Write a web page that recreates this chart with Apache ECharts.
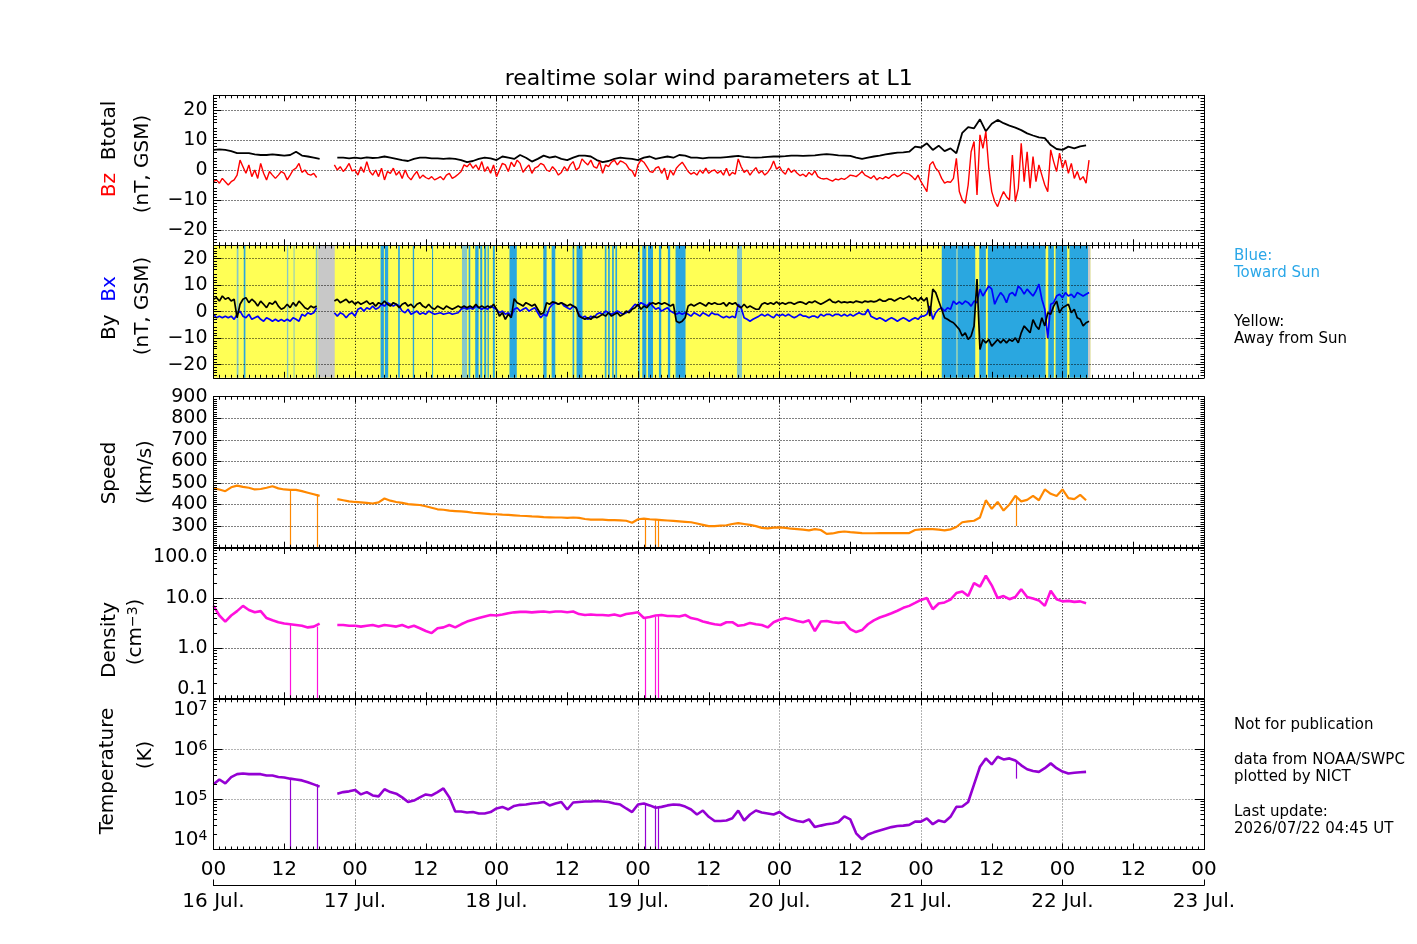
<!DOCTYPE html>
<html>
<head>
<meta charset="utf-8">
<script src="https://cdn.jsdelivr.net/npm/echarts@6/dist/echarts.min.js"></script>
<style>
html,body{margin:0;padding:0;background:#fff;}
#chart{width:1417px;height:944px;}
</style>
</head>
<body>
<div id="chart"></div>
<script>
// ================= DATA =================
// time axis: hours since 16 Jul 00:00 UT
const dayLabels = ['16 Jul.','17 Jul.','18 Jul.','19 Jul.','20 Jul.','21 Jul.','22 Jul.','23 Jul.'];
const bTicks = [-20, -10, 0, 10, 20];

// Btotal, hourly from h0
const btotal = [
  6.8, 7.0, 6.8, 6.4, 5.7, 5.7, 5.7, 5.3, 5.1, 5.1,
  5.3, 5.1, 4.9, 5.1, 6.2, 4.9, 4.6, 4.2, 3.8, null,
  null, 4.2, 4.2, 4.0, 4.2, 4.0, 4.3, 4.1, 4.2, 4.6,
  4.2, 3.8, 3.4, 3.1, 3.8, 4.2, 4.2, 4.0, 4.0, 3.8,
  4.0, 3.8, 3.4, 2.7, 3.1, 3.8, 4.2, 4.0, 3.4, 4.6,
  4.2, 3.8, 5.1, 4.2, 2.9, 3.8, 4.9, 4.2, 4.6, 3.8,
  3.4, 4.2, 4.9, 4.9, 4.6, 3.4, 2.7, 3.1, 3.8, 4.2,
  4.0, 3.8, 3.4, 4.2, 4.6, 3.8, 4.2, 4.6, 4.2, 5.1,
  4.9, 4.2, 4.2, 4.0, 4.2, 4.2, 4.2, 4.4, 4.6, 4.8,
  4.5, 4.3, 4.2, 4.3, 4.5, 4.6, 4.6, 4.7, 4.9, 4.9,
  4.8, 4.9, 5.0, 5.2, 5.4, 5.2, 5.0, 4.9, 4.8, 4.2,
  3.8, 4.2, 4.6, 4.9, 5.3, 5.6, 5.9, 6.0, 6.2, 7.9,
  7.6, 9.0, 6.8, 8.2, 6.4, 7.3, 5.7, 12.5, 14.4, 14.0,
  17.0, 13.0, 15.5, 16.8, 15.7, 14.9, 14.2, 13.4, 12.3, 11.6,
  11.0, 10.7, 8.4, 7.1, 6.8, 7.9, 7.3, 8.0, 8.3
];

// Bz, every half hour from h0 (rows = 4 hours)
const bz = [
  -3.8, -3.2, -4.3, -2.7, -3.8, -4.9, -3.8, -3.2,
  -1.6, 3.4, 1.2, -1.0, 1.8, -2.1, 0.1, -2.7,
  2.3, -1.0, -3.2, -0.4, -1.6, -2.7, -1.6, -0.4,
  -1.0, -3.2, -1.6, 0.1, 0.7, 2.3, -0.7, 0.1,
  -1.3, -1.6, -1.0, -2.4, null, null, null, null,
  null, 1.8, 0.1, 1.2, -0.4, 0.7, 2.3, -0.2,
  0.1, -1.6, 1.2, -0.7, 2.9, -0.4, -1.6, 0.1,
  -2.1, 0.7, -3.2, -0.4, -1.0, 0.7, -1.6, -0.4,
  -2.7, 0.1, -2.1, -3.2, -1.6, -0.4, -2.7, -1.6,
  -2.4, -2.9, -2.1, -3.2, -2.7, -2.1, -3.2, -1.6,
  -1.0, -2.7, -2.1, -1.3, -0.4, 1.8, 1.2, 2.3,
  0.7, 1.8, 0.1, 2.9, -0.4, 1.2, -1.0, 1.8,
  -2.1, 0.1, 2.3, 1.8, -0.4, 2.7, 1.2, 3.4,
  2.3, -0.7, 0.7, 1.8, -1.0, 0.7, 1.2, 2.3,
  1.8, 0.1, -0.4, 1.2, 0.1, -1.6, -0.7, 1.2,
  -0.2, 1.8, 2.9, 0.1, 0.9, 3.8, 2.7, 1.8,
  3.4, 1.2, 0.7, 2.9, -1.0, 1.8, 1.2, 2.7,
  3.4, 1.8, 3.1, 2.7, 2.0, 0.4, -0.2, -2.1,
  1.8, 3.4, 2.7, 1.2, -0.4, -0.7, 0.7, 1.2,
  -1.0, 0.7, -3.2, 0.1, -1.6, 0.7, 1.8, 2.7,
  1.2, -0.4, -1.3, -0.7, -1.6, 0.1, -1.0, 0.7,
  -1.0, -0.2, 0.1, -1.0, -0.2, -1.6, 0.7, -1.8,
  -0.7, -1.3, 3.8, 1.2, -0.7, 0.1, -1.6, -0.2,
  0.9, -1.0, -0.2, -1.6, -0.7, 0.7, 3.1, 0.4,
  1.2, -0.4, -1.3, 0.7, -0.7, 0.1, -1.0, -1.8,
  -1.3, -2.1, -0.7, -1.6, -0.2, -2.1, -2.7, -2.9,
  -2.7, -3.2, -3.6, -2.9, -3.2, -2.7, -3.0, -2.4,
  -1.6, -1.8, -2.1, -1.3, -0.4, -1.6, -2.1, -2.7,
  -1.8, -3.2, -2.4, -2.9, -2.1, -2.7, -1.8, -1.3,
  -2.1, -1.6, -0.7, -1.0, -1.3, -2.1, -3.2, -1.6,
  -3.8, -5.4, -7.1, 1.8, 2.9, 0.7, -0.4, -2.7,
  -4.3, -3.8, -4.0, -2.7, 4.0, -7.1, -9.9, -11.0,
  -4.9, 6.2, 9.6, -8.2, 11.8, 7.3, 12.9, 0.7,
  -7.1, -10.4, -12.1, -9.3, -7.1, -8.8, -9.9, 5.1,
  -10.4, -6.0, 9.0, -3.8, 6.2, -6.0, 4.6, -3.8,
  1.8, -1.6, -4.9, -7.1, 6.8, 2.9, -0.4, 5.7,
  0.7, 3.4, -1.0, 2.3, -2.7, -0.4, -3.2, -2.1,
  -4.3, 3.4
];

// By, every half hour from h0
const by = [
  4.7, 5.3, 4.0, 5.9, 4.7, 5.3, 4.0, 4.7,
  -2.3, 2.8, 4.7, 5.3, 3.4, 4.7, 3.7, 2.1,
  4.0, 2.8, 1.5, 3.4, 2.8, 4.0, 2.1, 0.9,
  1.5, 2.8, 1.5, 3.4, 2.1, 4.0, 2.8, 1.5,
  0.9, 2.1, 1.5, 2.1, null, null, null, null,
  null, 4.0, 4.7, 3.4, 4.0, 4.7, 3.4, 4.0,
  2.8, 3.7, 2.8, 3.4, 4.0, 2.8, 3.4, 2.1,
  3.4, 2.8, 4.0, 2.8, 2.1, 3.4, 2.8, 1.5,
  2.8, 3.4, 2.1, 2.8, 1.5, 2.8, 3.4, 2.1,
  1.5, 2.8, 1.5, 0.9, 2.1, 1.5, 0.9, 2.1,
  1.5, 0.9, 1.5, 2.1, 1.5, 2.1, 1.5, 2.1,
  1.5, 2.8, 1.5, 2.1, 1.5, 2.1, 1.5, 2.8,
  0.9, -1.7, -0.4, -2.9, -1.0, -2.3, 4.9, 3.4,
  2.8, 2.1, 3.4, 2.8, 2.1, 2.8, 0.9, -1.0,
  -0.4, 3.4, 2.8, 3.7, 3.4, 2.8, 3.4, 2.8,
  2.1, 2.8, 2.1, 1.5, -1.7, -2.3, -2.9, -2.3,
  -2.9, -1.7, -2.3, -1.7, -1.0, -1.7, -0.4, -1.7,
  -1.0, -0.4, -1.7, -1.0, 0.2, -0.4, 0.9, 1.5,
  2.8, 0.9, 2.1, 1.5, 2.8, 3.4, 2.8, 3.4,
  2.8, 3.4, 2.8, 2.1, 2.8, -3.6, -4.2, -3.6,
  -2.3, 2.1, 2.8, 2.1, 2.8, 3.4, 2.8, 2.1,
  3.4, 2.8, 3.4, 2.8, 2.8, 3.4, 2.1, 3.4,
  2.8, 3.4, 2.1, 1.5, 2.8, 1.5, 2.1, 1.5,
  0.9, 0.9, 2.8, 3.4, 2.8, 3.4, 2.8, 3.7,
  2.8, 3.4, 2.8, 3.4, 3.4, 2.8, 3.4, 3.7,
  3.4, 2.8, 3.7, 3.4, 4.0, 3.4, 2.8, 3.4,
  4.0, 4.7, 3.7, 3.4, 4.0, 3.4, 3.7, 3.4,
  3.7, 3.4, 4.0, 3.7, 3.4, 4.0, 3.7, 4.0,
  3.7, 4.0, 4.7, 4.0, 4.0, 4.7, 4.7, 4.0,
  4.7, 5.3, 4.7, 5.3, 5.9, 4.7, 5.3, 4.0,
  5.3, 4.0, 5.3, -1.7, 8.5, 7.2, 4.0, 0.9,
  -2.3, -2.9, -3.6, -4.2, -5.4, -6.7, -9.2, -8.0,
  -10.5, -9.2, -5.4, 12.3, -14.3, -10.5, -11.8, -10.5,
  -13.0, -11.8, -10.5, -11.8, -10.5, -11.8, -10.5, -11.2,
  -9.9, -11.8, -8.0, -5.4, -6.7, -8.0, -3.0, -5.4,
  -6.7, -2.3, -5.4, -0.4, -1.0, 2.1, 4.0, -0.4,
  1.5, 2.1, 2.8, -0.4, 0.9, -2.3, -2.9, -5.4,
  -4.2, -3.6
];

// Bx, every half hour from h0
const bx = [
  -1.0, -2.3, -1.7, -2.3, -1.7, -2.3, -1.7, -2.9,
  -1.0, 0.2, -1.7, -2.3, -1.0, -2.9, -2.3, -1.7,
  -2.9, -3.6, -2.3, -2.9, -3.6, -2.9, -3.6, -3.0,
  -3.6, -2.9, -3.6, -2.3, -2.9, -3.6, -1.0, -1.7,
  -0.4, -1.0, -0.4, 1.5, null, null, null, null,
  null, -0.4, -1.7, -0.4, -1.0, -2.3, -1.0, -0.4,
  -1.7, 0.9, 1.5, 0.2, 1.5, 0.9, 2.1, 0.9,
  1.5, 2.8, 2.1, 3.4, 2.8, 2.1, 2.8, 2.1,
  0.2, -0.4, 0.9, -1.0, -0.4, 0.2, -1.0, -0.4,
  -1.0, 0.2, -0.4, -1.0, -0.7, -0.4, -1.0, -0.7,
  -0.4, -1.0, -0.7, -0.4, 0.9, 1.5, 0.9, 1.5,
  0.9, 2.1, 1.5, 0.9, 1.5, 0.9, 2.1, 1.5,
  0.9, -0.4, 0.2, -1.0, -0.4, -1.7, 0.9, 1.5,
  0.2, 0.9, 1.5, 0.2, 0.9, 1.5, -0.4, -2.3,
  -1.0, -1.7, 1.5, 2.8, 3.4, 2.8, 3.4, 2.1,
  1.5, 0.9, 2.1, 1.5, -1.0, -2.3, -1.7, -2.9,
  -1.7, -2.3, -1.0, -0.4, -1.0, 0.2, -0.4, -1.0,
  -0.4, 0.2, -0.4, -1.0, -0.4, 0.2, 1.5, 2.8,
  2.1, 3.4, 2.8, 2.1, 3.4, 2.1, 0.9, 1.5,
  0.2, 0.9, 1.5, 0.2, -0.4, -1.0, -0.4, -1.0,
  -0.4, -1.0, -1.7, -0.4, -1.0, -1.7, -0.4, -1.0,
  -1.7, -0.4, -1.0, -1.0, -1.7, -2.3, -1.7, -2.3,
  -1.7, -2.3, 2.8, 1.5, -2.3, -2.9, -3.6, -2.9,
  -2.3, -1.7, -1.0, -1.7, -1.0, -1.7, -2.3, -1.0,
  -1.7, -1.0, -1.7, -1.0, -1.7, -2.3, -1.7, -1.0,
  -1.7, -1.7, -2.3, -1.7, -1.7, -2.3, -1.0, -1.7,
  -1.0, -1.0, -1.7, -1.0, -1.0, -1.7, -1.0, -1.7,
  -1.0, -1.7, -1.0, -0.4, -1.0, -1.0, 0.9, -1.7,
  -2.3, -2.9, -2.3, -2.9, -3.6, -2.9, -2.3, -2.9,
  -3.6, -2.9, -2.3, -2.9, -3.6, -2.9, -2.3, -2.9,
  -1.7, -1.7, -1.0, 2.1, -2.9, -0.4, 0.9, 1.5,
  0.2, 1.5, 0.9, 4.0, 2.8, 3.7, 2.8, 4.0,
  3.4, 2.1, 4.0, 3.4, 8.5, 5.9, 7.8, 9.7,
  8.5, 2.8, 5.3, 7.2, 5.9, 3.4, 6.6, 7.2,
  5.9, 9.7, 8.5, 6.6, 8.5, 7.2, 5.9, 7.8,
  10.4, 4.7, 0.9, -9.9, 2.8, 3.4, 5.9, 6.6,
  5.3, 7.2, 5.9, 6.6, 5.3, 7.2, 6.6, 5.9,
  6.6, 7.2
];

// IMF sector background of the By/Bx panel: [startHour, endHour]
const yellowSpan = [0, 148.73];
const blueStripes = [
  [5.13,5.41],[28.34,28.9],[29.07,29.63],[31.32,31.6],[33.8,34.03],[37.07,37.24],
  [43.27,43.55],[44.39,44.96],[45.24,45.58],[45.92,46.25],[46.48,46.7],[47.38,47.72],
  [50.2,51.44],[55.94,56.5],[57.35,57.97],[60.9,61.18],[61.58,62.59],
  [66.37,66.65],[66.93,67.21],[67.61,67.89],[68.17,68.45],
  [72.0,72.28],[72.73,73.41],[73.69,74.54],[75.55,75.94],[77.07,77.46],[78.37,80.06],
  [123.52,125.94],[126.22,129.2],[129.88,131.0],[131.34,141.13],[141.58,142.54],
  [142.82,144.79],[145.18,148.33]
];
const mixedStripes = [
  [3.94,4.23],[12.45,12.68],[13.58,13.75],[17.35,17.63],[42.14,43.0],[88.8,89.64],[125.94,126.22]
];
const grayStripes = [[17.75,20.56],[148.33,148.73]];

// Speed (km/s), hourly from h0
const speed = [
  475, 470, 462, 480, 488, 482, 478, 470, 472, 478,
  485, 475, 470, 468, 468, 462, 455, 448, 440, null,
  null, 425, 420, 415, 412, 410, 408, 405, 410, 428,
  418, 412, 408, 402, 400, 398, 392, 385, 378, 376,
  372, 370, 368, 366, 362, 360, 358, 356, 355, 353,
  352, 350, 348, 347, 345, 344, 342, 341, 340, 340,
  338, 340, 338, 333, 330, 330, 330, 328, 328, 327,
  325, 316, 332, 335, 332, 330, 328, 326, 324, 322,
  320, 318, 312, 306, 300, 300, 302, 304, 310, 314,
  310, 306, 300, 292, 290, 293, 294, 292, 288, 286,
  284, 280, 286, 282, 264, 266, 272, 275, 272, 270,
  268, 267, 267, 268, 268, 268, 268, 268, 268, 282,
  285, 286, 286, 284, 280, 285, 296, 318, 322, 325,
  340, 420, 380, 412, 372, 400, 440, 415, 422, 440,
  420, 470, 450, 440, 470, 430, 425, 445, 420
];

// Density (cm^-3), hourly from h0
const density = [
  7.0, 4.5, 3.4, 4.5, 5.5, 7.0, 5.8, 5.2, 5.5, 4.0,
  3.6, 3.3, 3.1, 3.0, 2.9, 2.8, 2.6, 2.7, 3.1, null,
  null, 2.9, 2.9, 2.8, 2.8, 2.7, 2.8, 2.9, 2.7, 2.9,
  2.8, 2.7, 2.9, 2.6, 2.8, 2.5, 2.2, 2.0, 2.5, 2.6,
  2.9, 2.6, 3.0, 3.4, 3.7, 4.0, 4.3, 4.6, 4.5, 4.7,
  5.0, 5.2, 5.3, 5.3, 5.2, 5.3, 5.4, 5.2, 5.4, 5.4,
  5.2, 5.4, 4.8, 4.6, 4.7, 4.6, 4.6, 4.5, 4.7, 4.4,
  4.8, 5.0, 5.2, 4.0, 4.2, 4.5, 4.6, 4.4, 4.4, 4.3,
  4.6, 4.0, 3.8, 3.4, 3.2, 3.0, 2.9, 3.3, 3.3, 2.8,
  2.9, 3.2, 3.0, 2.9, 2.6, 3.3, 3.7, 4.0, 3.8, 3.5,
  3.3, 3.6, 2.2, 3.4, 3.5, 3.3, 3.2, 3.3, 2.4, 2.1,
  2.3, 3.0, 3.6, 4.1, 4.5, 5.0, 5.6, 6.4, 7.0, 8.0,
  9.2, 10.0, 6.0, 7.8, 8.2, 9.3, 12.6, 13.6, 11.0, 20.0,
  17.0, 28.0, 18.0, 10.0, 11.0, 9.5, 10.5, 15.0, 10.5, 9.8,
  9.0, 7.0, 14.0, 9.5, 8.6, 8.8, 8.4, 8.6, 7.9
];

// Temperature (K), hourly from h0
const temperature = [
  2.0e5, 2.5e5, 2.1e5, 2.8e5, 3.2e5, 3.3e5, 3.2e5, 3.2e5, 3.2e5, 3.0e5,
  3.0e5, 2.8e5, 2.75e5, 2.6e5, 2.5e5, 2.4e5, 2.2e5, 2.0e5, 1.8e5, null,
  null, 1.3e5, 1.4e5, 1.45e5, 1.55e5, 1.26e5, 1.4e5, 1.2e5, 1.15e5, 1.6e5,
  1.4e5, 1.3e5, 1.1e5, 8.9e4, 9.5e4, 1.1e5, 1.26e5, 1.2e5, 1.4e5, 1.66e5,
  1.1e5, 5.75e4, 5.75e4, 5.5e4, 5.6e4, 5.25e4, 5.25e4, 5.6e4, 6.6e4, 7.1e4,
  6.3e4, 7.4e4, 7.8e4, 7.9e4, 8.3e4, 8.5e4, 8.9e4, 7.6e4, 8.3e4, 8.9e4,
  6.3e4, 8.7e4, 8.9e4, 9.1e4, 9.1e4, 9.3e4, 9.1e4, 8.9e4, 8.3e4, 7.9e4,
  6.6e4, 5.6e4, 7.9e4, 8.3e4, 7.6e4, 6.8e4, 7.1e4, 7.6e4, 7.9e4, 7.8e4,
  7.2e4, 6.3e4, 5.0e4, 6.0e4, 4.5e4, 3.7e4, 3.7e4, 3.8e4, 4.2e4, 6.0e4,
  3.8e4, 5.0e4, 6.0e4, 5.5e4, 5.25e4, 5.0e4, 5.6e4, 4.6e4, 4.0e4, 3.7e4,
  3.55e4, 4.0e4, 2.8e4, 3.0e4, 3.2e4, 3.3e4, 3.55e4, 4.6e4, 4.0e4, 2.1e4,
  1.6e4, 2.0e4, 2.2e4, 2.4e4, 2.6e4, 2.8e4, 2.95e4, 3.0e4, 3.1e4, 3.6e4,
  3.6e4, 4.2e4, 3.2e4, 3.8e4, 3.55e4, 4.5e4, 7.1e4, 7.2e4, 8.9e4, 2.0e5,
  4.5e5, 6.6e5, 5.0e5, 7.1e5, 6.3e5, 6.6e5, 6.0e5, 4.8e5, 4.0e5, 3.7e5,
  3.55e5, 4.2e5, 5.25e5, 4.2e5, 3.6e5, 3.3e5, 3.4e5, 3.5e5, 3.55e5
];

// bad-data dropouts: [hour, value at top of spike, value at bottom]
const speedDrops = [[13.07, 468, 200], [17.55, 448, 200], [73.2, 335, 200], [74.9, 332, 200], [75.4, 330, 200], [136.1, 440, 300]];
const densityDrops = [[13.07, 3.0, 0.1], [17.55, 2.7, 0.1], [73.2, 4.0, 0.1], [74.9, 4.2, 0.1], [75.4, 4.5, 0.1]];
const tempDrops = [[13.07, 2.6e5, 1e4], [17.55, 2.0e5, 1e4], [73.2, 8.3e4, 1e4], [74.9, 7.6e4, 1e4], [75.4, 6.8e4, 1e4], [136.1, 6.0e5, 2.6e5]];

// ================= LAYOUT / STYLE =================
const FONT = 'DejaVu Sans';
const LEFT = 213.5, WIDTH = 990.5;
const panels = [
  { top: 95.3,  height: 150.0 },
  { top: 245.5, height: 132.3 },
  { top: 396.7, height: 151.0 },
  { top: 548.0, height: 150.3 },
  { top: 699.3, height: 150.2 }
];
const dayGrid = [24, 48, 72, 96, 120, 144];

const grids = panels.map(p => ({ left: LEFT, top: p.top, width: WIDTH, height: p.height, outerBoundsMode: 'none', containLabel: false, show: false }));

const axisLineStyle = { color: '#000', width: 1 };

// x axes: bottom (2i), top (2i+1) for each panel; extra date axis
const xAxis = [];
panels.forEach((p, i) => {
  ['bottom', 'top'].forEach(pos => {
    xAxis.push({
      type: 'value', gridIndex: i, position: pos, min: 0, max: 168, interval: 12, z: 10,
      axisLine: { show: true, onZero: false, lineStyle: axisLineStyle },
      axisTick: { show: true, inside: true, length: 6, lineStyle: axisLineStyle },
      minorTick: { show: true, splitNumber: 12, length: 3, lineStyle: axisLineStyle },
      axisLabel: {
        show: i === 4 && pos === 'bottom', margin: 10, fontSize: 20, fontFamily: FONT, color: '#000',
        showMinLabel: true, showMaxLabel: true,
        formatter: v => (v % 24 === 0 ? '00' : '12')
      },
      splitLine: { show: false }
    });
  });
});
xAxis.push({
  type: 'value', gridIndex: 4, position: 'bottom', offset: 36, min: 0, max: 168, interval: 24, z: 10,
  axisLine: { show: true, onZero: false, lineStyle: axisLineStyle },
  axisTick: { show: true, inside: true, length: 6, lineStyle: axisLineStyle },
  minorTick: { show: false },
  axisLabel: { margin: 6, fontSize: 20, fontFamily: FONT, color: '#000', showMinLabel: true, showMaxLabel: true,
    formatter: v => dayLabels[Math.round(v / 24)] },
  splitLine: { show: false }
});

// y axes: left (2i), right (2i+1)
const yAxis = [];
function yCfg(i) {
  const base = {
    gridIndex: i, z: 10,
    axisLine: { show: true, onZero: false, lineStyle: axisLineStyle },
    splitLine: { show: false },
    axisLabel: { fontSize: 19, fontFamily: FONT, color: '#000', margin: 6, showMinLabel: true, showMaxLabel: true }
  };
  if (i <= 1) {
    return Object.assign(base, {
      type: 'value', min: -25, max: 25, interval: 5,
      axisTick: { show: true, inside: true, length: 8, customValues: bTicks, lineStyle: axisLineStyle },
      minorTick: { show: true, splitNumber: 5, length: 3.5, lineStyle: axisLineStyle },
      axisLabel: Object.assign(base.axisLabel, { customValues: bTicks, formatter: v => String(v).replace('-', '\u2212') })
    });
  }
  if (i === 2) {
    return Object.assign(base, {
      type: 'value', min: 200, max: 900, interval: 100,
      axisTick: { show: true, inside: true, length: 8, lineStyle: axisLineStyle },
      minorTick: { show: true, splitNumber: 10, length: 3.5, lineStyle: axisLineStyle },
      axisLabel: Object.assign(base.axisLabel, { formatter: v => (v === 200 ? '' : String(v)) })
    });
  }
  if (i === 3) {
    return Object.assign(base, {
      type: 'log', logBase: 10, min: 0.1, max: 100,
      axisTick: { show: true, inside: true, length: 9, lineStyle: axisLineStyle },
      minorTick: { show: false },
      axisLabel: Object.assign(base.axisLabel, {
        verticalAlignMaxLabel: 'top', verticalAlignMinLabel: 'bottom',
        formatter: v => Number(v).toFixed(1)
      })
    });
  }
  return Object.assign(base, {
    type: 'log', logBase: 10, min: 1e4, max: 1e7,
    axisTick: { show: true, inside: true, length: 9, lineStyle: axisLineStyle },
    minorTick: { show: false },
    axisLabel: Object.assign(base.axisLabel, {
      verticalAlignMaxLabel: 'top', verticalAlignMinLabel: 'bottom',
      fontSize: 20,
      formatter: v => '10{s|' + Math.round(Math.log10(v)) + '}',
      rich: { s: { fontSize: 14, fontFamily: FONT, color: '#000', verticalAlign: 'top', lineHeight: 12 } }
    })
  });
}
panels.forEach((p, i) => {
  const l = yCfg(i); l.position = 'left';
  const r = yCfg(i); r.position = 'right'; r.axisLabel = Object.assign({}, r.axisLabel, { show: false });
  yAxis.push(l, r);
});

// ================= SERIES =================
const series = [];
const pairs = (arr, step) => arr.map((v, k) => [k * step, v]);

function dataLine(i, data, color, width, drops) {
  const s = {
    type: 'line', xAxisIndex: 2 * i, yAxisIndex: 2 * i, data: data, z: 3,
    showSymbol: false, symbol: 'none', connectNulls: false, silent: true, animation: false,
    lineStyle: { color: color, width: width, join: 'bevel' }, itemStyle: { color: color }
  };
  if (drops) {
    s.markLine = {
      silent: true, z: 3, symbol: ['none', 'none'], label: { show: false }, animation: false,
      lineStyle: { color: color, width: 1.2, type: 'solid' },
      data: drops.map(d => [{ coord: [d[0], d[1]] }, { coord: [d[0], d[2]] }])
    };
  }
  return s;
}

function gridLines(i, yVals, color) {
  return {
    type: 'line', xAxisIndex: 2 * i, yAxisIndex: 2 * i, data: [], z: 2, silent: true,
    markLine: {
      silent: true, z: 2, symbol: ['none', 'none'], label: { show: false }, animation: false,
      lineStyle: { color: color, width: 1, type: [1, 2] },
      data: dayGrid.map(v => ({ xAxis: v })).concat(yVals.map(v => ({ yAxis: v })))
    }
  };
}

function logMinorTicks(i, decades) {
  const vals = [];
  decades.forEach(d => { for (let m = 2; m <= 9; m++) vals.push(m * d); });
  const segs = [];
  vals.forEach(v => {
    segs.push([{ coord: [0, v] }, { coord: [0.6, v] }]);
    segs.push([{ coord: [167.4, v] }, { coord: [168, v] }]);
  });
  return {
    type: 'line', xAxisIndex: 2 * i, yAxisIndex: 2 * i, data: [], z: 9, silent: true,
    markLine: { silent: true, z: 9, symbol: ['none', 'none'], label: { show: false }, animation: false,
      lineStyle: { color: '#000', width: 1, type: 'solid' }, data: segs }
  };
}

// panel 2 background
const bg = [];
const area = (s, e, c) => bg.push([{ xAxis: s, itemStyle: { color: c, opacity: 1 } }, { xAxis: e }]);
area(yellowSpan[0], yellowSpan[1], '#ffff55');
mixedStripes.forEach(d => area(d[0], d[1], '#86c9c8'));
blueStripes.forEach(d => area(d[0], d[1], '#2aa7e0'));
grayStripes.forEach(d => area(d[0], d[1], '#c8c8c8'));
series.push({
  type: 'line', xAxisIndex: 2, yAxisIndex: 2, data: [], z: 1, silent: true,
  markArea: { silent: true, z: 1, animation: false, data: bg }
});

series.push(gridLines(0, bTicks, '#000'));
series.push(gridLines(1, bTicks, '#000'));
series.push(gridLines(2, [300, 400, 500, 600, 700, 800], '#000'));
series.push(gridLines(3, [1, 10], '#000'));
series.push(gridLines(4, [1e5, 1e6], '#666'));

series.push(dataLine(0, pairs(btotal, 1), '#000', 1.8));
series.push(dataLine(0, pairs(bz, 0.5), '#ff0000', 1.4));
series.push(dataLine(1, pairs(bx, 0.5), '#0000ff', 1.7));
series.push(dataLine(1, pairs(by, 0.5), '#000', 1.7));
series.push(dataLine(2, pairs(speed, 1), '#ff8800', 2.2, speedDrops));
series.push(dataLine(3, pairs(density, 1), '#ff10dd', 2.6, densityDrops));
series.push(dataLine(4, pairs(temperature, 1), '#9400d3', 2.6, tempDrops));

series.push(logMinorTicks(3, [0.1, 1, 10]));
series.push(logMinorTicks(4, [1e4, 1e5, 1e6]));

// ================= TEXT =================
const txt = (x, y, text, opts) => Object.assign({
  type: 'text', x: x, y: y, silent: true, z: 20,
  style: Object.assign({ text: text, fill: '#000', font: '15px "DejaVu Sans"', align: 'left', verticalAlign: 'middle' }, (opts && opts.style) || {})
}, (opts && opts.el) || {});

const R90 = Math.PI / 2;
const axisName = (x, y, text, rich) => ({
  type: 'text', x: x, y: y, rotation: R90, silent: true, z: 20,
  style: { text: text, fill: '#000', font: '20px "DejaVu Sans"', align: 'center', verticalAlign: 'middle', rich: rich || {} }
});
const r20 = c => ({ fontSize: 20, fontFamily: FONT, fill: c, color: c });

const graphic = [
  { type: 'text', x: 708.7, y: 79, silent: true, z: 20,
    style: { text: 'realtime solar wind parameters at L1', fill: '#000', font: '22px "DejaVu Sans"', align: 'center', verticalAlign: 'middle' } },
  axisName(110, 149, '{r|Bz}  {k|Btotal}', { r: r20('#ff0000'), k: r20('#000') }),
  axisName(143, 164, '(nT, GSM)'),
  axisName(110, 308, '{k|By}  {b|Bx}', { k: r20('#000'), b: r20('#0000ff') }),
  axisName(143, 306, '(nT, GSM)'),
  axisName(110, 473, 'Speed'),
  axisName(146, 472, '(km/s)'),
  axisName(110, 640, 'Density'),
  axisName(136, 632, '(cm{s|\u22123})', { s: { fontSize: 14, fontFamily: FONT, verticalAlign: 'top', lineHeight: 12 } }),
  axisName(108, 771, 'Temperature'),
  axisName(146, 755, '(K)'),
  txt(1234, 256, 'Blue:', { style: { fill: '#2aa7e8' } }),
  txt(1234, 273, 'Toward Sun', { style: { fill: '#2aa7e8' } }),
  txt(1234, 322, 'Yellow:'),
  txt(1234, 339, 'Away from Sun'),
  txt(1234, 725, 'Not for publication'),
  txt(1234, 760, 'data from NOAA/SWPC'),
  txt(1234, 777, 'plotted by NICT'),
  txt(1234, 812, 'Last update:'),
  txt(1234, 829, '2026/07/22 04:45 UT')
];

const chart = echarts.init(document.getElementById('chart'), null, { renderer: 'canvas' });
chart.setOption({
  backgroundColor: '#ffffff',
  animation: false,
  textStyle: { fontFamily: FONT },
  grid: grids,
  xAxis: xAxis,
  yAxis: yAxis,
  series: series,
  graphic: graphic
});
</script>
</body>
</html>
